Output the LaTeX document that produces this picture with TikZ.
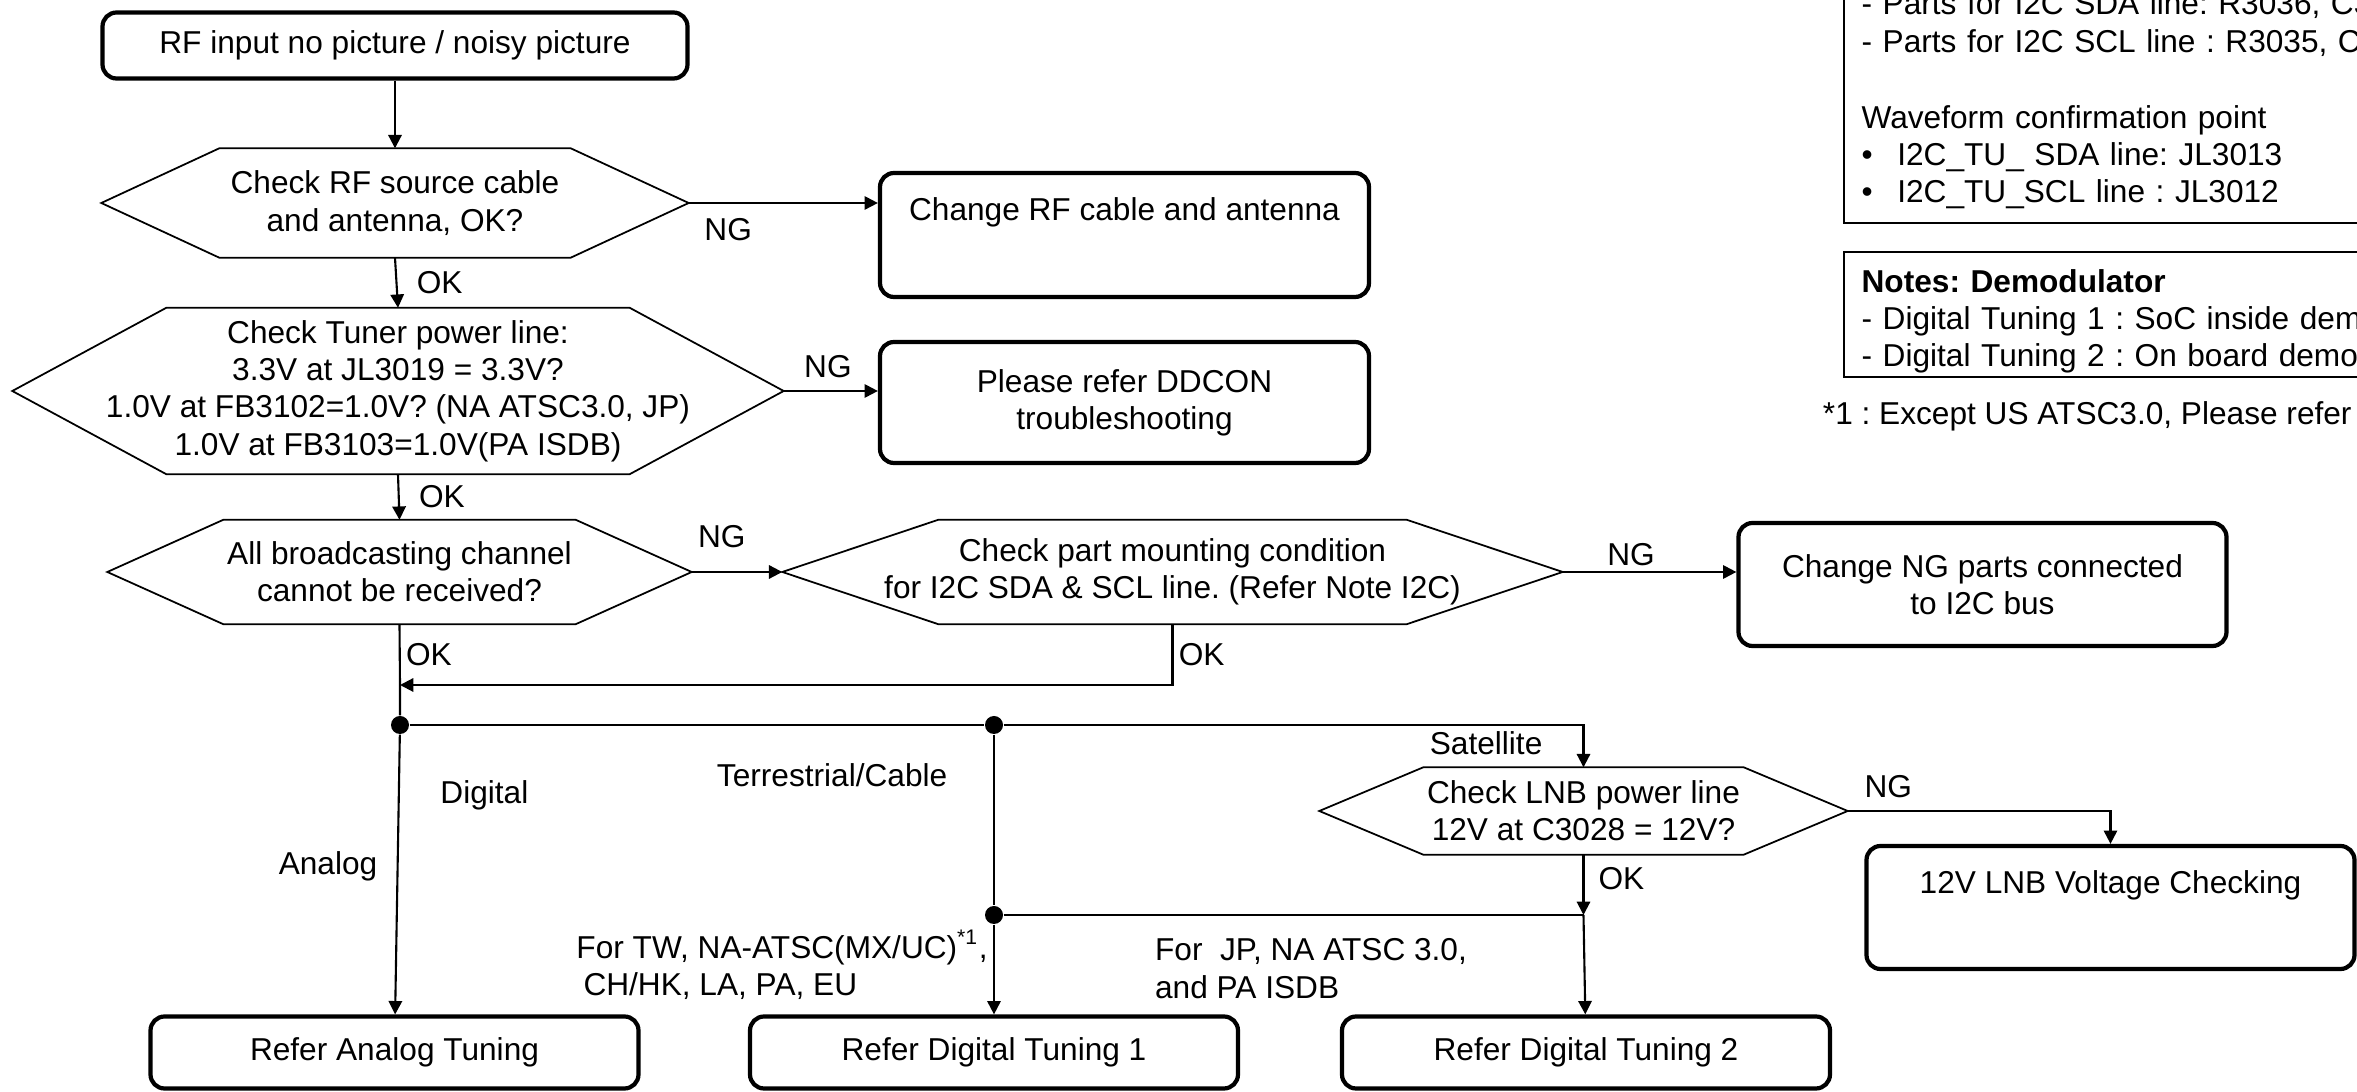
\documentclass[tikz,border=0pt]{standalone}
\usepackage{fontspec}
\setmainfont{Liberation Sans}
\frenchspacing
\usetikzlibrary{arrows.meta,positioning}

% outline of a decision node: node name, slant of the side points
\newcommand{\hexframe}[2]{%
  \draw[line width=0.5pt] (#1.west) -- ([xshift=#2]#1.north west) -- ([xshift=-#2]#1.north east)
    -- (#1.east) -- ([xshift=-#2]#1.south east) -- ([xshift=#2]#1.south west) -- cycle;}

\begin{document}
\begin{tikzpicture}[
    font=\fontsize{9}{10.6}\selectfont,
    box/.style={draw, line width=1.2pt, rounded corners=4pt, minimum width=4.88cm, minimum height=1.23cm, align=center},
    dec/.style={inner sep=0pt, align=center},
    note/.style={draw, line width=0.6pt, align=left, text width=7cm, inner xsep=5pt, inner ysep=1pt},
    dot/.style={circle, fill, inner sep=0pt, minimum size=0.18cm},
    ln/.style={line width=0.6pt},
    arr/.style={-{Triangle[length=3.8pt, width=3.8pt]}, line width=0.6pt},
    lbl/.style={inner sep=1.5pt}
]
\useasboundingbox (0,0) rectangle (23.57,-10.92);
\clip (0,0) rectangle (23.57,-10.92);

% checks
\node[box, minimum width=5.85cm, minimum height=0.66cm] (start) at (3.95,-0.455) {RF input no picture / noisy picture};
\node[dec, minimum width=5.86cm, minimum height=1.08cm] (chk1) at (3.95,-2.03) {Check RF source cable\\and antenna, OK?};
\node[dec, minimum width=7.70cm, minimum height=1.65cm] (chk2) at (3.98,-3.91) {Check Tuner power line:\\3.3V at JL3019 = 3.3V?\\1.0V at FB3102=1.0V? (NA ATSC3.0, JP)\\1.0V at FB3103=1.0V(PA ISDB)};
\node[dec, minimum width=5.83cm, minimum height=1.03cm] (chk3) at (3.995,-5.72) {All broadcasting channel\\cannot be received?};
\node[dec, minimum width=7.79cm, minimum height=1.03cm] (chk4) at (11.725,-5.72) {Check part mounting condition\\for I2C SDA \& SCL line. (Refer Note I2C)};
\node[dec, minimum width=5.27cm, minimum height=0.86cm] (chk5) at (15.835,-8.11) {Check LNB power line\\12V at C3028 = 12V?};
\hexframe{chk1}{1.18cm}
\hexframe{chk2}{1.54cm}
\hexframe{chk3}{1.16cm}
\hexframe{chk4}{1.56cm}
\hexframe{chk5}{1.04cm}

% actions
\node[box, minimum width=4.89cm, minimum height=1.24cm] (chgrf) at (11.245,-2.35) {Change RF cable and antenna\\[4pt]~};
\node[box, minimum width=4.89cm, minimum height=1.21cm] (ddcon) at (11.245,-4.025) {Please refer DDCON\\troubleshooting};
\node[box] (i2c) at (19.825,-5.845) {Change NG parts connected\\to I2C bus};
\node[box] (lnb) at (21.105,-9.075) {12V LNB Voltage Checking\\[4pt]~};
\node[box, minimum height=0.72cm] (analog) at (3.945,-10.525) {Refer Analog Tuning};
\node[box, minimum height=0.72cm] (dt1) at (9.94,-10.525) {Refer Digital Tuning 1};
\node[box, minimum height=0.72cm] (dt2) at (15.86,-10.525) {Refer Digital Tuning 2};

% notes
\node[note, inner ysep=4pt, anchor=south west] (i2cnote) at (18.43,-2.24) {- Parts for I2C SDA line: R3036, C3\\- Parts for I2C SCL line : R3035, C3\\[11pt]Waveform confirmation point\\\textbullet\hspace{7pt}I2C\_TU\_ SDA line: JL3013\\\textbullet\hspace{7pt}I2C\_TU\_SCL line : JL3012};
\node[note, anchor=north west] (demnote) at (18.43,-2.51) {\rule{0pt}{10.5pt}\textbf{Notes: Demodulator}\\- Digital Tuning 1 : SoC inside demo\\- Digital Tuning 2 : On board demod};
\node[lbl, anchor=west] (fnote) at (18.17,-4.16) {*1 : Except US ATSC3.0, Please refer};

% branch points
\node[dot] (dig) at (4.0,-7.25) {};
\node[dot] (terr) at (9.94,-7.25) {};
\node[dot] (reg) at (9.94,-9.15) {};
\coordinate (okin) at (4.0,-6.85);
\coordinate (sat) at (15.835,-9.15);

\draw[arr] (start) -- (chk1);
\draw[arr] (chk1.east) -- node[lbl, below right=2.5pt and 0pt, pos=0.05] {NG} (chk1.east -| chgrf.west);
\draw[arr] (chk1.south) -- node[lbl, right=4pt] {OK} (chk2.north);
\draw[arr] (chk2.east) -- node[lbl, above right=2pt and 0pt, pos=0.15] {NG} (chk2.east -| ddcon.west);
\draw[arr] (chk2.south) -- node[lbl, right=4pt] {OK} (chk3.north);
\draw[arr] (chk3.east) -- node[lbl, above right=5pt and 0pt, pos=0] {NG} (chk4.west);
\draw[arr] (chk4.east) -- node[lbl, above right, pos=0.22] {NG} (chk4.east -| i2c.west);
\draw[ln] (chk3.south) -- node[lbl, right] {OK} (okin) -- (dig);
\draw[arr] (chk4.south) |- node[lbl, right, pos=0.25] {OK} (okin);
\draw[arr] (dig) -- node[lbl, left=4pt, pos=0.47] {Analog} (analog);
\draw[ln] (dig) -- node[lbl, below=14pt, pos=0.13] {Digital} (terr);
\draw[arr] (terr) -| node[lbl, below left, pos=0.47] {Satellite} (chk5.north);
\draw[ln] (terr) -- node[lbl, left=11.5pt, pos=0.24] {Terrestrial/Cable} (reg);
\draw[arr] (reg) -- node[lbl, left, align=left, pos=0.45] {For TW, NA-ATSC(MX/UC)\textsuperscript{*1},\\\hspace{2pt}CH/HK, LA, PA, EU} (dt1);
\draw[ln] (reg) -- node[lbl, below=5pt, align=left, pos=0.53] {For\ \ JP, NA ATSC 3.0,\\and PA ISDB} (sat);
\draw[arr] (chk5.south) -- node[lbl, right=2.5pt, pos=0.4] {OK} (sat);
\draw[arr] (sat) -- (dt2);
\draw[arr] (chk5.east) -| node[lbl, above right=2pt and 0pt, pos=0.02] {NG} (lnb.north);
\end{tikzpicture}
\end{document}
